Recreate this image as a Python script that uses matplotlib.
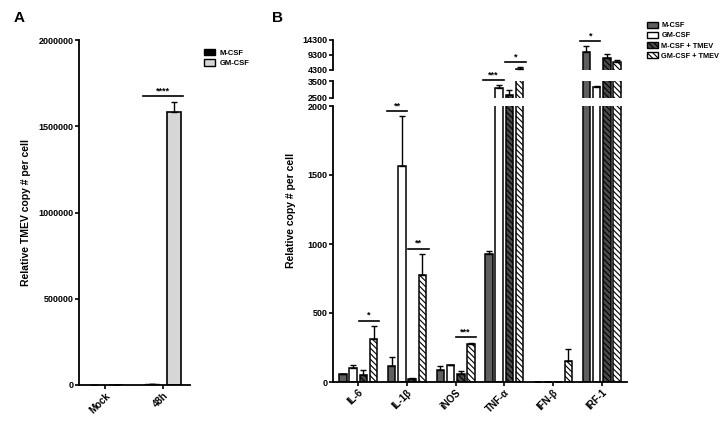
import matplotlib
matplotlib.use("Agg")
import matplotlib.pyplot as plt
from matplotlib.patches import Patch
import numpy as np

plt.rcParams['font.family'] = ['Liberation Sans', 'DejaVu Sans']
plt.rcParams['font.weight'] = 'bold'
plt.rcParams['axes.labelweight'] = 'bold'
plt.rcParams['hatch.linewidth'] = 0.8

# ---- panel A data
cats_a = ['Mock', '48h']
mcsf_a = [0, 5000]
mcsf_a_err = [0, 1500]
gmcsf_a = [0, 1585000]
gmcsf_a_err = [0, 55000]

# ---- panel B data
cats_b = ['IL-6', 'IL-1β', 'iNOS', 'TNF-α', 'IFN-β', 'IRF-1']
mcsf = [56, 116, 85, 930, 0, 10100]
mcsf_err = [5, 67, 33, 17, 0, 2200]
gmcsf = [99, 1567, 123, 3073, 0, 3134]
gmcsf_err = [22, 360, 3, 220, 0, 80]
mcsf_tmev = [51, 22, 56, 2683, 0, 8300]
mcsf_tmev_err = [34, 5, 26, 290, 0, 1130]
gmcsf_tmev = [311, 775, 275, 4600, 154, 6970]
gmcsf_tmev_err = [97, 150, 10, 600, 83, 560]

# significance marks: (category, x0 offset, x1 offset, y, label)
sig_a = [(1, -0.35, 0.35, 1675000, '****')]
sig_b_low = [(0, 0.01, 0.43, 444, '*'), (1, -0.42, 0.01, 1964, '**'),
             (1, 0.03, 0.45, 966, '**'), (2, 0.0, 0.41, 326, '***')]
sig_b_mid = [(3, -0.44, -0.01, 3580, '***')]
sig_b_top = [(3, 0.01, 0.44, 6770, '*'), (5, -0.44, -0.03, 13870, '*')]

W, H = 727, 422
fig = plt.figure(figsize=(W / 100, H / 100), dpi=100)


def px_axes(x0, y0, x1, y1):
    # rectangle in pixel coords (top-left origin) -> figure axes
    return fig.add_axes([x0 / W, 1 - y1 / H, (x1 - x0) / W, (y1 - y0) / H])


def style(ax, bottom=True):
    for s in ['top', 'right']:
        ax.spines[s].set_visible(False)
    ax.spines['left'].set_linewidth(1.3)
    ax.spines['bottom'].set_linewidth(1.3)
    ax.tick_params(axis='y', labelsize=6.5, width=1.2, length=3, pad=1)
    if not bottom:
        ax.spines['bottom'].set_visible(False)
        ax.tick_params(axis='x', bottom=False, labelbottom=False)
    else:
        ax.tick_params(axis='x', labelsize=7, width=1.2, length=3, pad=1)


def sig(ax, items):
    for c, a, b, y, lab in items:
        ax.plot([c + a, c + b], [y, y], color='black', lw=1.2, clip_on=False)
        ax.annotate(lab, xy=(c + (a + b) / 2, y), xytext=(0, 0.5),
                    textcoords='offset points', ha='center', va='bottom',
                    fontsize=6.5, annotation_clip=False)


# ================= panel A
axA = px_axes(79, 40, 190, 385)
xa = np.arange(len(cats_a))
bw = 0.24
axA.bar(xa - 0.19, mcsf_a, bw, color='black', edgecolor='black', lw=1,
        yerr=[np.zeros(2), mcsf_a_err], capsize=2.5,
        error_kw=dict(elinewidth=1, capthick=1))
axA.bar(xa + 0.19, gmcsf_a, bw, color='#d6d6d6', edgecolor='black', lw=1.2,
        yerr=[np.zeros(2), gmcsf_a_err], capsize=2.5,
        error_kw=dict(elinewidth=1, capthick=1))
axA.set_xlim(-0.45, 1.47)
axA.set_ylim(0, 2000000)
axA.set_yticks([0, 500000, 1000000, 1500000, 2000000])
axA.set_yticklabels(['0', '500000', '1000000', '1500000', '2000000'])
axA.set_xticks(xa)
axA.set_xticklabels(cats_a, rotation=45, ha='right', rotation_mode='anchor')
style(axA)
axA.set_ylabel('Relative TMEV copy # per cell', fontsize=7.5, labelpad=5)
sig(axA, sig_a)
fig.legend(handles=[Patch(facecolor='black', edgecolor='black', label='M-CSF'),
                    Patch(facecolor='#d6d6d6', edgecolor='black', label='GM-CSF')],
           loc='upper left', bbox_to_anchor=(200 / W, 1 - 45 / H), frameon=False,
           fontsize=5.5, handlelength=1.5, handleheight=0.9, handletextpad=0.6,
           labelspacing=0.35, borderpad=0)
fig.text(14 / W, 1 - 22 / H, 'A', fontsize=11, fontweight='bold')

# ================= panel B (broken y-axis)
series = [
    (mcsf, mcsf_err, dict(color='#5f5f5f', hatch=None)),
    (gmcsf, gmcsf_err, dict(color='white', hatch=None)),
    (mcsf_tmev, mcsf_tmev_err, dict(color='#4a4a4a', hatch='\\\\\\\\\\\\')),
    (gmcsf_tmev, gmcsf_tmev_err, dict(color='white', hatch='\\\\\\\\\\\\')),
]
labels_b = ['M-CSF', 'GM-CSF', 'M-CSF + TMEV', 'GM-CSF + TMEV']
offs = [-0.315, -0.105, 0.105, 0.315]
xb = np.arange(len(cats_b))

segs = [
    (px_axes(333, 106, 627, 382), (0, 2000), [0, 500, 1000, 1500, 2000], True),
    (px_axes(333, 81.3, 627, 97.7), (2500, 3500), [2500, 3500], False),
    (px_axes(333, 39.7, 627, 69.7), (4300, 14300), [4300, 9300, 14300], False),
]
for ax, lim, ticks, bottom in segs:
    for (vals, errs, st), o in zip(series, offs):
        ax.bar(xb + o, vals, 0.155, color=st['color'], hatch=st['hatch'],
               edgecolor='black', lw=1.1,
               yerr=[np.zeros(len(vals)), errs], capsize=2,
               error_kw=dict(elinewidth=1, capthick=1, ecolor='black'))
    ax.set_xlim(-0.52, 5.52)
    ax.set_ylim(*lim)
    ax.set_yticks(ticks)
    ax.set_yticklabels([str(t) for t in ticks])
    style(ax, bottom)
    ax.patch.set_alpha(0)

axB = segs[0][0]
axB.set_xticks(xb)
axB.set_xticklabels(cats_b, rotation=45, ha='right', rotation_mode='anchor')
axB.set_ylabel('Relative copy # per cell', fontsize=7.5)
axB.yaxis.set_label_coords(-0.125, 0.62)
sig(axB, sig_b_low)
sig(segs[1][0], sig_b_mid)
sig(segs[2][0], sig_b_top)

fig.legend(handles=[Patch(facecolor=st['color'], hatch=st['hatch'], edgecolor='black', label=l)
                    for (v, e, st), l in zip(series, labels_b)],
           loc='upper left', bbox_to_anchor=(643 / W, 1 - 18 / H), frameon=False,
           fontsize=5.3, handlelength=1.5, handleheight=0.9, handletextpad=0.5,
           labelspacing=0.35, borderpad=0)
fig.text(272 / W, 1 - 22 / H, 'B', fontsize=11, fontweight='bold')

fig.savefig('out.png', dpi=100)
